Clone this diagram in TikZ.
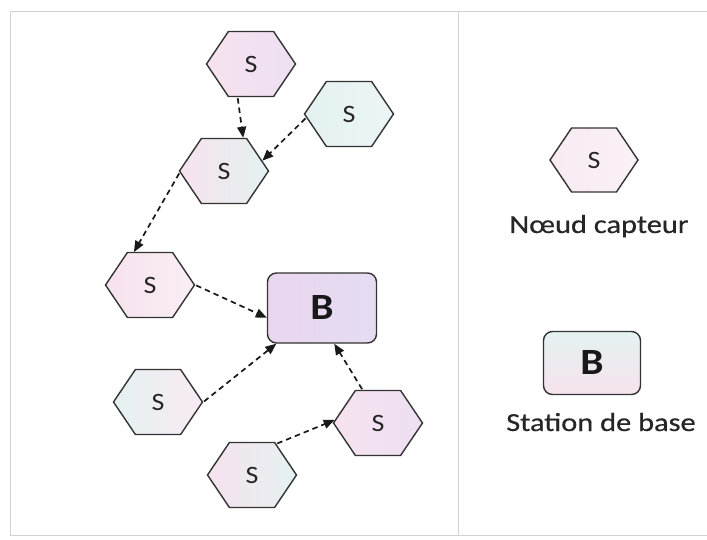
\documentclass[tikz,border=0pt]{standalone}
\usepackage{fontspec}
\setmainfont{Carlito}
\newfontfamily\labelfont[FakeStretch=1.17,FakeBold=0.5]{Carlito}
\newfontfamily\markfont[FakeStretch=1.12]{Carlito}
\usetikzlibrary{shapes.symbols,arrows.meta}
\definecolor{edge}{HTML}{333333}
\definecolor{framegray}{HTML}{D2D2D2}
\definecolor{pinkA}{HTML}{F6E2EE}
\definecolor{lilacA}{HTML}{EDE0F2}
\definecolor{cyanA}{HTML}{E4F1F1}
\definecolor{lavB}{HTML}{EAD5EF}
\definecolor{lavC}{HTML}{E4DDF2}
\begin{document}
\begin{tikzpicture}[x=1pt,y=-1pt,
  sensor/.style={signal, signal to=west and east, signal pointer angle=112,
    draw=edge, line width=1.4pt, minimum width=89pt, minimum height=65pt,
    inner sep=0pt, font=\markfont\fontsize{25}{25}\selectfont, text=black!85},
  station/.style={rectangle, rounded corners=9pt, draw=edge, line width=1.4pt,
    minimum width=109pt, minimum height=70pt, inner sep=0pt,
    font=\markfont\fontsize{37}{37}\selectfont\bfseries, text=black!90},
  link/.style={draw=black!90, line width=1.7pt, dash pattern=on 5.5pt off 4pt,
    -{Triangle[length=11pt,width=9pt]}, shorten <=1pt},
  legend/.style={font=\labelfont\fontsize{26}{26}\selectfont, text=black!85, inner sep=0pt}
]
\useasboundingbox (0,0) rectangle (707,540);
\fill[white] (0,0) rectangle (707,540);

% outer frame and divider
\draw[framegray, line width=1pt] (10,535) -- (10,12) -- (707,12);
\draw[framegray, line width=1pt] (10,535) -- (707,535);
\draw[framegray, line width=1pt] (458,12) -- (458,535);

% sensor nodes
\node[sensor, left color=pinkA, right color=lilacA] (h1) at (251,64) {S};
\node[sensor, left color=cyanA, right color=cyanA!70!white] (h2) at (349,114) {S};
\node[sensor, left color=pinkA, right color=cyanA] (h3) at (224,171) {S};
\node[sensor, left color=pinkA, right color=pinkA!60!white] (h4) at (150,285) {S};
\node[sensor, left color=cyanA, right color=pinkA!70!white] (h6) at (158,402) {S};
\node[sensor, left color=pinkA, right color=lilacA] (h7) at (378,423) {S};
\node[sensor, left color=pinkA, right color=cyanA] (h8) at (252,475) {S};

% base station
\node[station, left color=lavB, right color=lavC] (B) at (322,308) {B};

% data flow
\draw[link] (h1.248) -- (h3.60);
\draw[link] (h2.185) -- (h3.15);
\draw[link] (h3.182) -- (h4.116);
\draw[link] (h4.east) -- (B.190);
\draw[link] (h6.east) -- (B.218);
\draw[link] (h7.115) -- (B.289);
\draw[link] (h8.52) -- (h7.176);

% legend
\node[sensor, minimum width=88pt, minimum height=64pt, left color=pinkA!70!white, right color=pinkA!50!white] (ls) at (594,160) {S};
\node[legend, anchor=base] (lsl) at (599,233) {Nœud capteur};
\node[station, minimum width=97pt, minimum height=63pt, top color=cyanA, bottom color=pinkA] (lb) at (592,363) {B};
\node[legend, anchor=base] (lbl) at (601,431) {Station de base};
\end{tikzpicture}
\end{document}
